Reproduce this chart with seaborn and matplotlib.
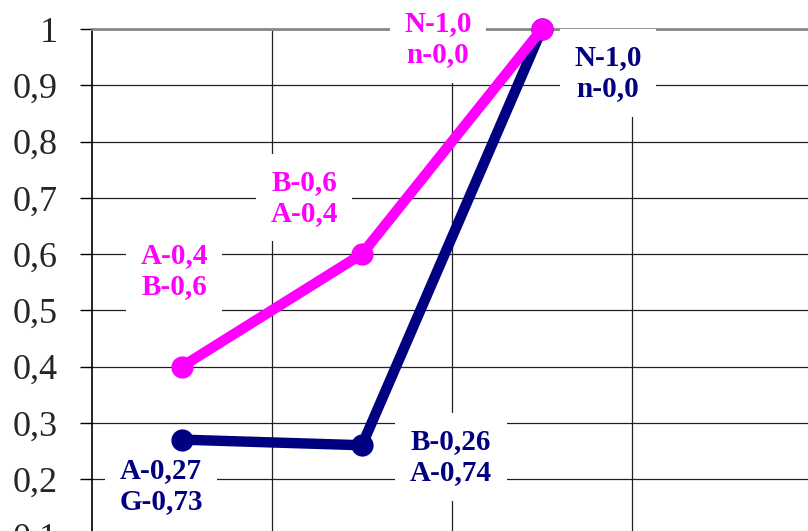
import numpy as np
import pandas as pd
import seaborn as sns
import matplotlib.pyplot as plt

# data
steps = [0, 1, 2]
pink_vals = [0.4, 0.6, 1.0]
navy_vals = [0.27, 0.26, 1.0]
colors = {'pink': '#FF00FF', 'navy': '#000080'}

pink_labels = ['A-0,4\nB-0,6', 'B-0,6\nA-0,4', 'N-1,0\nn-0,0']
pink_label_pos = [(-0.044, 0.570), (0.678, 0.700), (1.422, 0.982)]
navy_labels = ['A-0,27\nG-0,73', 'B-0,26\nA-0,74', 'N-1,0\nn-0,0']
navy_label_pos = [(-0.117, 0.188), (1.494, 0.239), (2.367, 0.922)]

yticks = [0.1, 0.2, 0.3, 0.4, 0.5, 0.6, 0.7, 0.8, 0.9, 1.0]
ytick_labels = ['0,1', '0,2', '0,3', '0,4', '0,5', '0,6', '0,7', '0,8', '0,9', '1']

df = pd.DataFrame({
    'step': steps * 2,
    'value': navy_vals + pink_vals,
    'series': ['navy'] * 3 + ['pink'] * 3,
})

sns.set_style('white')
plt.rcParams['font.family'] = ['Liberation Serif', 'DejaVu Serif']

fig = plt.figure(figsize=(8.08, 5.31), dpi=100)
ax = fig.add_axes([92 / 808, (531 - 535.25) / 531, 720 / 808, (535.25 - 29) / 531])

sns.lineplot(data=df, x='step', y='value', hue='series', hue_order=['navy', 'pink'],
             palette=colors, marker='o', markersize=16, markeredgewidth=0,
             linewidth=7.5, legend=False, ax=ax)
for i, ln in enumerate(ax.lines):
    ln.set_clip_on(False)
    ln.set_zorder(5 + i)

ax.set_xlim(-0.5, 3.5)
ax.set_ylim(0.1, 1.0)
ax.set_xticks([0.5, 1.5, 2.5])
ax.set_xticklabels([])
ax.set_yticks(yticks)
ax.set_yticklabels(ytick_labels, fontsize=26)
ax.tick_params(axis='y', direction='out', length=8.6, width=1, color='black', pad=16, left=True)
ax.tick_params(axis='x', length=0)
ax.grid(True, color='#222222', linewidth=0.9)
ax.set_axisbelow(True)
ax.set_xlabel('')
ax.set_ylabel('')

for s in ['right', 'bottom']:
    ax.spines[s].set_visible(False)
ax.spines['top'].set_color('#888888')
ax.spines['top'].set_linewidth(2)
ax.spines['left'].set_color('black')
ax.spines['left'].set_linewidth(1.2)

box = dict(boxstyle='square,pad=0.5', facecolor='white', edgecolor='none')
for txt, (x, y) in zip(pink_labels, pink_label_pos):
    ax.text(x, y, txt, color=colors['pink'], fontsize=21, fontweight='bold',
            ha='center', va='center', linespacing=1.2, bbox=box, zorder=3)
for txt, (x, y) in zip(navy_labels, navy_label_pos):
    ax.text(x, y, txt, color=colors['navy'], fontsize=21, fontweight='bold',
            ha='center', va='center', linespacing=1.2, bbox=box, zorder=3)

fig.savefig('out.png', dpi=100)
